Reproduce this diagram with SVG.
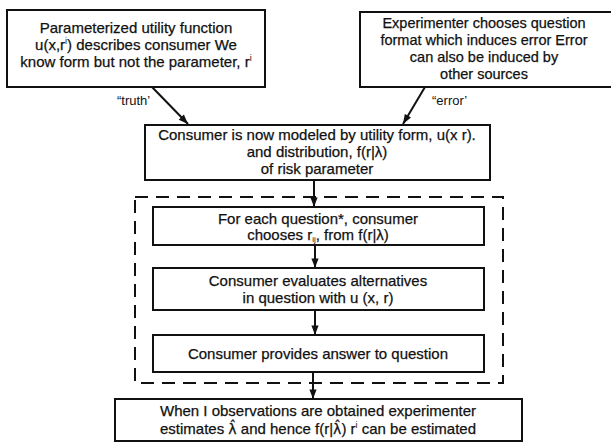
<svg xmlns="http://www.w3.org/2000/svg" width="611" height="444" viewBox="0 0 611 444">
<defs>
<marker id="ah" viewBox="0 0 12 10" refX="12" refY="5" markerWidth="11" markerHeight="8" markerUnits="userSpaceOnUse" orient="auto">
<path d="M0,0.5 L12,5 L0,9.5 z" fill="#111"/>
</marker>
<style>
.box{fill:#fff;stroke:#111;stroke-width:2}
.dash{fill:none;stroke:#111;stroke-width:2;stroke-dasharray:13 8}
.t{font-family:"Liberation Sans",Arial,sans-serif;font-size:15px;fill:#111;stroke:#111;stroke-width:0.25;text-anchor:middle}
.s{font-size:14.5px}
.lbl{font-family:"Liberation Sans",Arial,sans-serif;font-size:13px;fill:#111}
.c{stroke:#111;stroke-width:2;fill:none;marker-end:url(#ah)}
.h{font-family:"DejaVu Sans",sans-serif;font-size:14px}
.sm{stroke:none}
</style>
</defs>
<rect width="611" height="444" fill="#fff"/>
<g id="connectors">
<line class="c" x1="152" y1="87" x2="188" y2="124"/>
<line class="c" x1="425" y1="87" x2="403" y2="124"/>
<line class="c" x1="314" y1="180" x2="314" y2="207"/>
<line class="c" x1="315" y1="245" x2="315" y2="268"/>
<line class="c" x1="315" y1="310" x2="315" y2="335"/>
<line class="c" x1="313" y1="372" x2="313" y2="399"/>
<text class="lbl" x="117" y="105">“truth’</text>
<text class="lbl" x="432" y="105">“error’</text>
</g>
<g id="loop">
<rect class="dash" x="135" y="197" width="368" height="186"/>
</g>
<g id="n1">
<rect class="box" x="7" y="10" width="258" height="77"/>
<text class="t" x="136" y="33">Parameterized utility function</text>
<text class="t" x="136" y="50">u(x,r<tspan class="sm" font-size="9" dy="-6">i</tspan><tspan dy="6">) describes consumer  We</tspan></text>
<text class="t" x="136" y="67">know form but not the parameter, r<tspan class="sm" font-size="9" dy="-6">i</tspan></text>
</g>
<g id="n2">
<rect class="box" x="360" y="12" width="260" height="75"/>
<text class="t s" x="484" y="28">Experimenter chooses question</text>
<text class="t s" x="484" y="45">format which induces error  Error</text>
<text class="t s" x="484" y="62">can also be induced by</text>
<text class="t s" x="484" y="79">other sources</text>
</g>
<g id="n3">
<rect class="box" x="145" y="125" width="345" height="55"/>
<text class="t" x="317" y="140">Consumer is now modeled by utility form, u(x r).</text>
<text class="t" x="317" y="157">and distribution, f(r|λ)</text>
<text class="t" x="317" y="174">of risk parameter</text>
</g>
<g id="n4">
<rect class="box" x="153" y="207" width="331" height="38"/>
<text class="t" x="318" y="224">For each question*, consumer</text>
<text class="t" x="318" y="240">chooses r<tspan class="sm" font-size="8" dy="2">ij</tspan><tspan dy="-2">, from f(r|λ)</tspan></text>
</g>
<g id="n5">
<rect class="box" x="153" y="268" width="331" height="42"/>
<text class="t" x="318" y="286">Consumer evaluates alternatives</text>
<text class="t" x="318" y="303">in question with u (x, r)</text>
</g>
<g id="n6">
<rect class="box" x="153" y="335" width="331" height="37"/>
<text class="t" x="318" y="359">Consumer provides answer to question</text>
</g>
<g id="n7">
<rect class="box" x="115" y="399" width="407" height="42"/>
<text class="t" x="318" y="416">When I observations are obtained  experimenter</text>
<text class="t" x="318" y="434">estimates <tspan class="h">λ̂</tspan> and hence f(r|<tspan class="h">λ̂</tspan>)   r<tspan class="sm" font-size="9" dy="-6">i</tspan><tspan dy="6"> can be estimated</tspan></text>
</g>
</svg>
